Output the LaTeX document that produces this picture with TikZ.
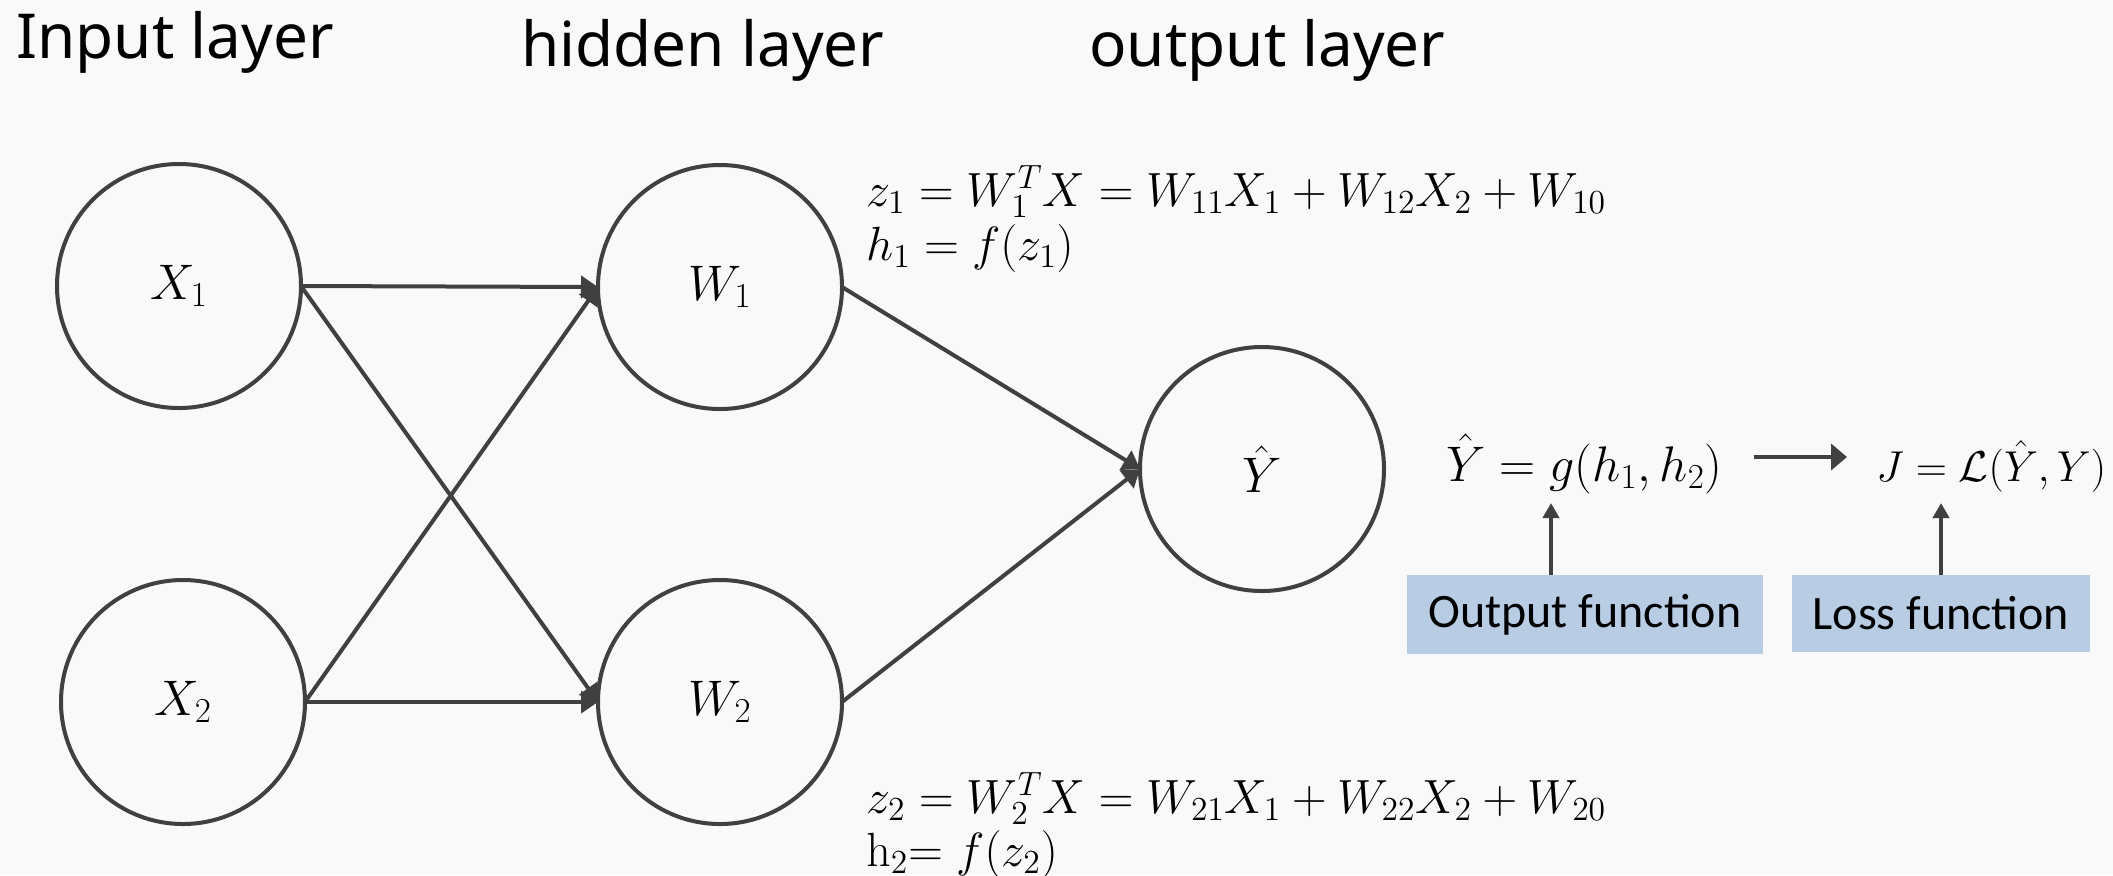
\documentclass[tikz,border=0pt]{standalone}
\usepackage{fix-cm}
\usepackage[no-math]{fontspec}
\usetikzlibrary{arrows.meta,calc}
\newfontfamily\titlefont{Noto Sans}
\newfontfamily\boxfont{Carlito}
\definecolor{bgc}{HTML}{F9F9F9}
\definecolor{linec}{HTML}{404040}
\definecolor{boxc}{HTML}{B8CCE4}
\begin{document}
\begin{tikzpicture}[x=0.5pt,y=-0.5pt,
  neuron/.style={circle, draw=linec, line width=2pt, fill=bgc, minimum size=122pt, inner sep=0pt, outer sep=0pt, font=\fontsize{25}{30}\selectfont},
  conn/.style={line width=2pt, draw=linec, -{Triangle[length=8.5pt,width=11pt]}},
  bigarr/.style={line width=2.2pt, draw=linec, -{Triangle[length=8pt,width=13pt]}},
  uparr/.style={line width=2pt, draw=linec, -{Triangle[length=7.5pt,width=8pt]}},
  ttl/.style={font=\titlefont\fontsize{31}{36}\selectfont, anchor=base west, inner sep=0pt},
  fml/.style={font=\fontsize{24}{28}\selectfont, anchor=base west, inner sep=0pt},
  fnbox/.style={fill=boxc, inner sep=0pt, font=\boxfont\fontsize{24}{28}\selectfont}
]
\fill[bgc] (0,0) rectangle (2113,875);
\useasboundingbox (0,0) rectangle (2113,875);

\node[ttl] (tin) at (16,58) {Input layer};
\node[ttl] (thid) at (521,66) {hidden layer};
\node[ttl] (tout) at (1089,66) {output layer};

\node[neuron] (x1) at (179,286) {$X_1$};
\node[neuron] (x2) at (183,702) {$X_2$};
\node[neuron] (w1) at (720,287) {$W_1$};
\node[neuron] (w2) at (720,702) {$W_2$};
\node[neuron] (yh) at (1262,469) {$\hat{Y}$};

\draw[conn] (x1.east) -- (w1.west);
\draw[conn] (x1.east) -- (w2.west);
\draw[conn] (x2.east) -- (w1.west);
\draw[conn] (x2.east) -- (w2.west);
\draw[conn] (w1.east) -- (yh.west);
\draw[conn] (w2.east) -- (yh.west);

\node[fml] (z1) at (866,206) {$z_1 = W_1^T X = W_{11}X_1 + W_{12}X_2 + W_{10}$};
\node[fml] (h1) at (866,260) {$h_1 = f(z_1)$};
\node[fml] (z2) at (866,813) {$z_2 = W_2^T X = W_{21}X_1 + W_{22}X_2 + W_{20}$};
\node[fml] (h2) at (866,866) {$\mathrm{h}_2\mathord{=}\; f(z_2)$};

\node[fml, font=\fontsize{25}{30}\selectfont] (yg) at (1446,481) {$\hat{Y} = g(h_1, h_2)$};
\node[fml, font=\fontsize{21.6}{26}\selectfont] (jl) at (1876,481) {$J = \mathcal{L}(\hat{Y}, Y)$};
\draw[bigarr] ($(yg.east |- 0,457)+(31,0)$) -- ($(jl.west |- 0,457)+(-29,0)$);

\node[fnbox, minimum width=178pt, minimum height=39.5pt] (ob) at (1585,614.5) {Output function};
\node[fnbox, minimum width=149pt, minimum height=38.5pt] (lb) at (1941,613.5) {Loss function};

\coordinate (ga) at (1551,503);
\coordinate (la) at (1941,503);
\draw[uparr] (ga |- ob.north) -- (ga);
\draw[uparr] (lb.north) -- (la);
\end{tikzpicture}
\end{document}
